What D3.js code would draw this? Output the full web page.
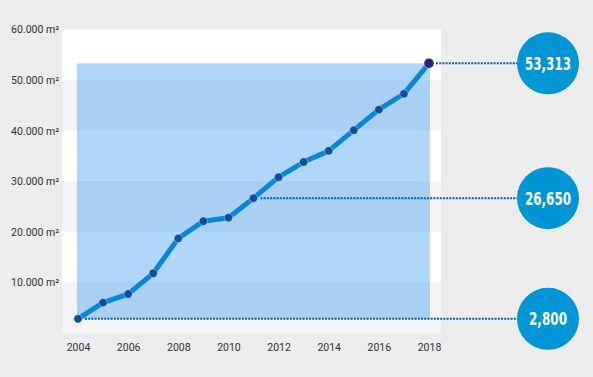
<!DOCTYPE html>
<html>
<head>
<meta charset="utf-8">
<script src="https://cdn.jsdelivr.net/npm/d3@7"></script>
<style>
  body { margin: 0; background: #ececec; }
  .tick text { font-family: Roboto, "DejaVu Sans", sans-serif; font-size: 10.5px; fill: #333; }
  .callout { font-family: "DejaVu Sans", sans-serif; font-weight: bold; font-size: 18px; fill: #fff; }
</style>
</head>
<body>
<div id="chart"></div>
<script>
const years = [2004, 2005, 2006, 2007, 2008, 2009, 2010, 2011, 2012, 2013, 2014, 2015, 2016, 2017, 2018];
const area_m2 = [2800, 6000, 7700, 11800, 18700, 22100, 22800, 26650, 30800, 33800, 36000, 40100, 44150, 47300, 53313];
const yTicks = [10000, 20000, 30000, 40000, 50000, 60000];
const xTicks = [2004, 2006, 2008, 2010, 2012, 2014, 2016, 2018];
const highlightYears = [2004, 2011, 2018];

const width = 593, height = 377;
const margin = ({top: 29.5, right: 152, bottom: 44, left: 62});

let x = d3.scaleLinear()
    .domain([2004, 2018])
    .range([margin.left + 16, width - margin.right - 12]);

let y = d3.scaleLinear()
    .domain([0, 60000])
    .range([height - margin.bottom, margin.top]);

let data = years.map((yr, i) => ({year: yr, value: area_m2[i]}));

let svg = d3.select("#chart").append("svg")
    .attr("width", width).attr("height", height);

// panel background with alternating bands
svg.append("rect")
    .attr("x", margin.left).attr("y", margin.top)
    .attr("width", width - margin.right - margin.left)
    .attr("height", height - margin.bottom - margin.top)
    .attr("fill", "#fff");

svg.selectAll("rect.band")
  .data(d3.range(0, 60000, 20000))
  .enter().append("rect").classed("band", true)
    .attr("x", margin.left)
    .attr("width", width - margin.right - margin.left)
    .attr("y", d => y(d + 10000))
    .attr("height", d => y(d) - y(d + 10000))
    .attr("fill", "#f4f4f4");

// range rect between min and max
let minV = d3.min(area_m2), maxV = d3.max(area_m2);
svg.append("rect")
    .attr("x", x(2004) - 1)
    .attr("width", x(2018) - x(2004) + 2)
    .attr("y", y(maxV))
    .attr("height", y(minV) - y(maxV))
    .attr("fill", "rgb(57,152,242)")
    .attr("fill-opacity", 0.4);

// axes
let yAxis = d3.axisLeft(y).tickValues(yTicks).tickSize(0).tickPadding(3)
    .tickFormat(d => d3.format(",")(d).replace(",", ".") + " m²");
let gy = svg.append("g")
    .attr("transform", `translate(${margin.left},0)`)
    .call(yAxis);
gy.select(".domain").remove();

let xAxis = d3.axisBottom(x).tickValues(xTicks).tickSize(0).tickPadding(11)
    .tickFormat(d3.format("d"));
let gx = svg.append("g")
    .attr("transform", `translate(0,${height - margin.bottom})`)
    .call(xAxis);
gx.select(".domain").remove();

// callouts
let circleX = 548, circleR = 31;
let highlights = data.filter(d => highlightYears.includes(d.year));

svg.selectAll("line.leader")
  .data(highlights)
  .enter().append("line").classed("leader", true)
    .attr("x1", d => x(d.year) + 7)
    .attr("x2", circleX - circleR)
    .attr("y1", d => y(d.value))
    .attr("y2", d => y(d.value))
    .attr("stroke", "#0b5cad")
    .attr("stroke-width", 2)
    .attr("stroke-dasharray", "2,1.2");

// line
let line = d3.line()
    .x(d => x(d.year))
    .y(d => y(d.value));

svg.append("path")
    .datum(data)
    .attr("d", line)
    .attr("fill", "none")
    .attr("stroke", "#0a86d8")
    .attr("stroke-width", 5)
    .attr("stroke-linejoin", "round");

svg.selectAll("circle.pt")
  .data(data)
  .enter().append("circle").classed("pt", true)
    .attr("cx", d => x(d.year))
    .attr("cy", d => y(d.value))
    .attr("r", d => d.year === 2018 ? 5 : 4.2)
    .attr("fill", d => d.year === 2018 ? "#2b2478" : "#0b4fa0")
    .attr("stroke", "rgba(255,255,255,0.5)")
    .attr("stroke-width", 0.8);

let callout = svg.selectAll("g.callout")
  .data(highlights)
  .enter().append("g")
    .attr("transform", d => `translate(${circleX},${y(d.value)})`);

callout.append("circle")
    .attr("r", circleR)
    .attr("fill", "#0096d6");

// condensed look: squeeze the bold text to fit the badge
callout.append("text")
    .attr("class", "callout")
    .attr("text-anchor", "middle")
    .attr("dy", "0.36em")
    .attr("textLength", d => d.value >= 10000 ? 46 : 38)
    .attr("lengthAdjust", "spacingAndGlyphs")
    .text(d => d3.format(",")(d.value));
</script>
</body>
</html>
